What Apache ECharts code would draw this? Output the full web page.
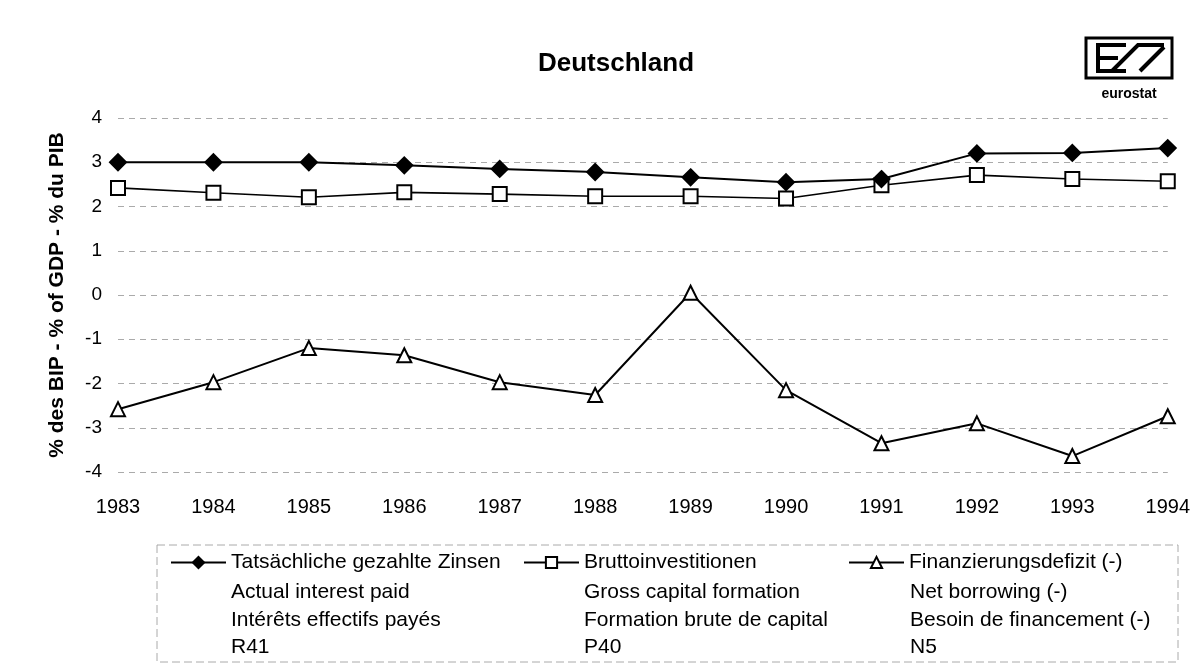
<!DOCTYPE html>
<html><head><meta charset="utf-8">
<script src="https://cdn.jsdelivr.net/npm/echarts@6/dist/echarts.min.js"></script>
<style>html,body{margin:0;padding:0;background:#fff}#c{width:1193px;height:671px}</style>
</head><body><div id="c"></div>
<script>
const years = ['1983','1984','1985','1986','1987','1988','1989','1990','1991','1992','1993','1994'];
const interest = [3.0, 3.0, 3.0, 2.93, 2.85, 2.78, 2.66, 2.55, 2.62, 3.2, 3.21, 3.32];
const capital = [2.42, 2.31, 2.21, 2.32, 2.28, 2.23, 2.23, 2.18, 2.48, 2.71, 2.62, 2.57];
const borrowing = [-2.58, -1.97, -1.2, -1.36, -1.97, -2.26, 0.05, -2.15, -3.35, -2.9, -3.64, -2.74];
const names = ['Tatsächliche gezahlte Zinsen', 'Bruttoinvestitionen', 'Finanzierungsdefizit (-)'];
const subLines = [
  ['Actual interest paid', 'Intérêts effectifs payés', 'R41'],
  ['Gross capital formation', 'Formation brute de capital', 'P40'],
  ['Net borrowing (-)', 'Besoin de financement (-)', 'N5']
];
const yTitle = '% des BIP - % of GDP - % du PIB';
const title = 'Deutschland';

const FONT = 'Liberation Sans, Arial, sans-serif';
const chart = echarts.init(document.getElementById('c'));
const legendX = [170, 523, 848];
const textX = [231, 584, 910];
const rowY = [592, 620, 647];
const graphics = [
  {type:'rect', shape:{x:157,y:545,width:1021,height:117}, style:{fill:'none', stroke:'#aaa', lineWidth:1, lineDash:[8,4]}},
  {type:'rect', shape:{x:1086,y:38,width:86,height:40}, style:{fill:'none', stroke:'#000', lineWidth:3}},
  {type:'polyline', shape:{points:[[1126,45],[1098,45],[1098,71],[1126,71]]}, style:{fill:'none', stroke:'#000', lineWidth:4}},
  {type:'line', shape:{x1:1098,y1:58,x2:1118,y2:58}, style:{stroke:'#000', lineWidth:4}},
  {type:'polyline', shape:{points:[[1112,71],[1138,45],[1164,45]]}, style:{fill:'none', stroke:'#000', lineWidth:4}},
  {type:'line', shape:{x1:1140,y1:71,x2:1164,y2:47}, style:{stroke:'#000', lineWidth:4}},
  {type:'text', x:1129, y:94, style:{text:'eurostat', font:'bold 14px '+FONT, fill:'#000', align:'center', verticalAlign:'middle'}}
];
subLines.forEach((lines, i) => {
  lines.forEach((t, j) => {
    graphics.push({type:'text', x:textX[i], y:rowY[j], style:{text:t, font:'21px '+FONT, fill:'#000', verticalAlign:'middle'}});
  });
});

const symbols = ['diamond', 'rect', 'triangle'];
const datas = [interest, capital, borrowing];
const series = names.map((n, i) => ({
  name: n, type: 'line', data: datas[i],
  symbol: symbols[i], symbolSize: i===0 ? 16 : 14,
  lineStyle: {color:'#000', width: i===1 ? 1.6 : 2},
  itemStyle: {color: i===0 ? '#000' : '#fff', borderColor:'#000', borderWidth: 2},
  emphasis: {disabled:true},
  z: 3 - i
}));

chart.setOption({
  animation: false,
  textStyle: {fontFamily: FONT},
  title: {text: title, left: 533, top: 46, textStyle:{fontSize:26, fontWeight:'bold', color:'#000', fontFamily:FONT}},
  grid: {left:118, right:23, top:118, bottom:199, containLabel:false},
  legend: names.map((n, i) => ({
    data:[n], left: legendX[i], top: 552, itemWidth: 55, itemHeight: 14, itemGap: 4, padding: 0,
    textStyle:{fontSize:21, color:'#000', fontFamily:FONT}, selectedMode:false
  })),
  xAxis: {type:'category', data: years, boundaryGap:false,
    axisLine:{show:false}, axisTick:{show:false},
    axisLabel:{fontSize:20, color:'#000', margin:25, fontFamily:FONT}},
  yAxis: {type:'value', min:-4, max:4, interval:1,
    name: yTitle, nameLocation:'middle', nameGap:50, nameRotate:90,
    nameTextStyle:{fontSize:21, color:'#000', fontWeight:'bold', fontFamily:FONT},
    axisLine:{show:false}, axisTick:{show:false},
    axisLabel:{fontSize:19, color:'#000', margin:16, fontFamily:FONT},
    splitLine:{show:true, lineStyle:{color:'#aaa', type:[6,5], width:1}}},
  series: series,
  graphic: graphics
});
</script></body></html>
